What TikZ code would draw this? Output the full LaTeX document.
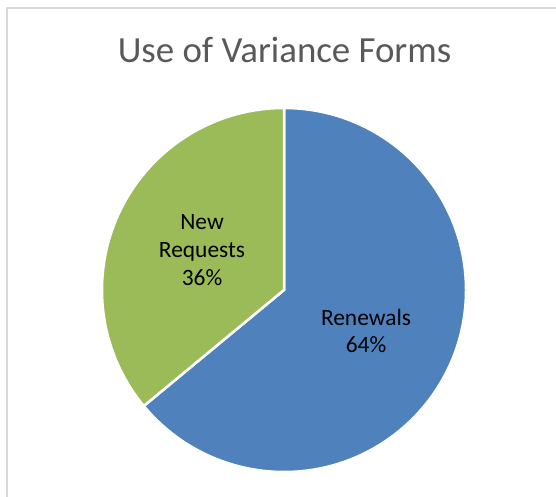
\documentclass[tikz,border=0pt]{standalone}
\usepackage{fontspec}
\setmainfont{Carlito}
\definecolor{renblue}{HTML}{4F81BD}
\definecolor{newgreen}{HTML}{9BBB59}
\definecolor{titlegray}{HTML}{595959}
\definecolor{framegray}{HTML}{D9D9D9}
\begin{document}
\begin{tikzpicture}[x=1bp,y=1bp,
  slice/.style={draw=white,line width=2.5bp,line join=miter},
  lbl/.style={align=center,text=black,font=\fontsize{23.5}{28}\selectfont,inner sep=0pt},
  ttl/.style={text=titlegray,font=\fontsize{37}{42}\selectfont,inner sep=0pt}]
\useasboundingbox (0,0) rectangle (556,497);
\draw[framegray,line width=2bp] (7,-2) -- (7,489) -- (558,489);
\coordinate (c) at (284,207);
\fill[renblue,slice] (c) -- ++(90:182) arc[start angle=90,end angle=-140.4,radius=182] -- cycle;
\fill[newgreen,slice] (c) -- ++(90:182) arc[start angle=90,end angle=219.6,radius=182] -- cycle;
\node[ttl,anchor=base] (title) at (284.5,434) {Use of Variance Forms};
\node[lbl] (newreq) at (202,247) {New\\Requests\\36\%};
\node[lbl] (renew) at (366,166) {Renewals\\64\%};
\end{tikzpicture}
\end{document}
